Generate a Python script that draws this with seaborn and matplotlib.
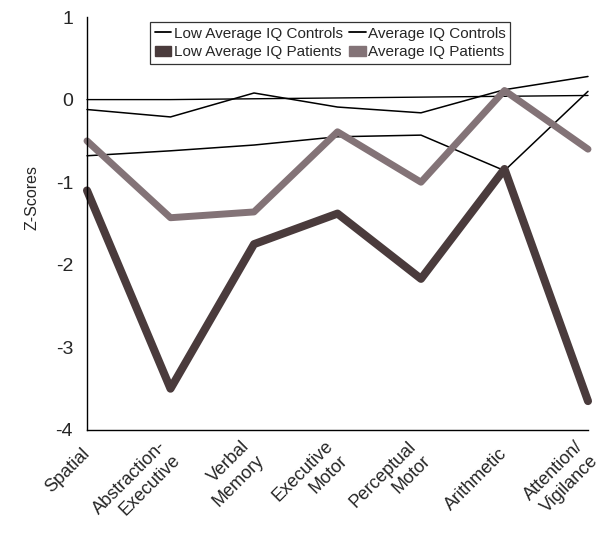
import matplotlib
matplotlib.use("Agg")
import matplotlib.pyplot as plt
from matplotlib.lines import Line2D
from matplotlib.patches import Patch
import numpy as np
import pandas as pd
import seaborn as sns

categories = ["Spatial", "Abstraction-\nExecutive", "Verbal\nMemory", "Executive\nMotor",
              "Perceptual\nMotor", "Arithmetic", "Attention/\nVigilance"]

# baseline line near zero (unlabelled in the legend)
reference_line = [0.0, 0.0, 0.01, 0.02, 0.03, 0.04, 0.05]
avg_controls = [-0.12, -0.21, 0.08, -0.09, -0.16, 0.12, 0.28]
low_avg_controls = [-0.68, -0.62, -0.55, -0.45, -0.43, -0.86, 0.10]
avg_patients = [-0.50, -1.43, -1.36, -0.39, -1.00, 0.11, -0.60]
low_avg_patients = [-1.10, -3.50, -1.75, -1.38, -2.17, -0.84, -3.65]

y_ticks = [-4, -3, -2, -1, 0, 1]

dark = "#4a3b3c"
grey = "#837377"

sns.set_style("white")
plt.rcParams["font.family"] = ["Liberation Sans", "DejaVu Sans"]

fig = plt.figure(figsize=(6.04, 5.39), dpi=100)
# axes box: x 87..588 px, y 17..430 px
ax = fig.add_axes([87 / 604, 1 - 430 / 539, (588 - 87) / 604, (430 - 17) / 539])

x = np.arange(len(categories))
series = [
    (reference_line, "black", 1.0),
    (avg_controls, "black", 1.1),
    (low_avg_controls, "black", 1.1),
    (avg_patients, grey, 5.0),
    (low_avg_patients, dark, 5.8),
]
for vals, col, lw in series:
    sns.lineplot(x=x, y=vals, ax=ax, color=col, linewidth=lw, legend=False, clip_on=False)

ax.set_xlim(0, len(categories) - 1)
ax.set_ylim(-4, 1)
ax.set_yticks(y_ticks)
ax.set_yticklabels([str(t) for t in y_ticks], fontsize=14)
ax.set_xticks(x)
ax.set_xticklabels(categories, rotation=45, ha="right", va="center", rotation_mode="anchor",
                   fontsize=13, multialignment="right", linespacing=1.25)
ax.tick_params(axis="both", direction="in", length=4, width=0.8, color="black")
ax.tick_params(axis="x", pad=15)
ax.tick_params(axis="y", pad=10)
ax.set_ylabel("Z-Scores", fontsize=11.5)
ax.yaxis.set_label_coords(-0.095, 0.564)

sns.despine(ax=ax)
for s in ["left", "bottom"]:
    ax.spines[s].set_color("black")
    ax.spines[s].set_linewidth(1.0)

handles = [
    Line2D([0], [0], color="black", linewidth=1.3),
    Patch(facecolor=dark, edgecolor=dark),
    Line2D([0], [0], color="black", linewidth=1.3),
    Patch(facecolor=grey, edgecolor=grey),
]
labels = ["Low Average IQ Controls", "Low Average IQ Patients",
          "Average IQ Controls", "Average IQ Patients"]
leg = ax.legend(handles, labels, ncol=2, loc="upper left",
                bbox_to_anchor=((150 - 87) / 501, (430 - 22) / 413),
                fontsize=11, frameon=True, fancybox=False, edgecolor="black",
                handlelength=1.1, handleheight=0.6, handletextpad=0.15,
                columnspacing=0.4, borderpad=0.3, labelspacing=0.3, borderaxespad=0)
leg.get_frame().set_linewidth(0.9)

fig.savefig("out.png", dpi=100)
